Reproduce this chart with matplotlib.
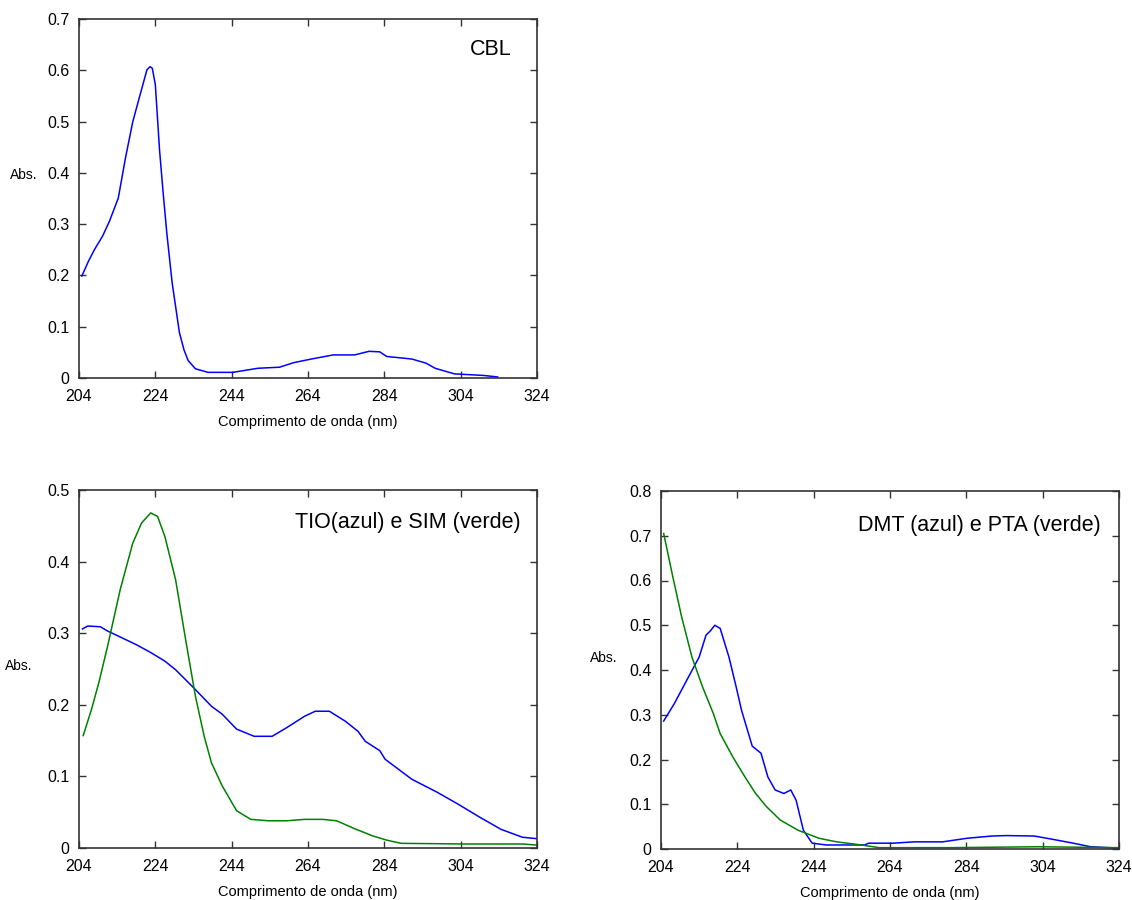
import matplotlib
matplotlib.use("Agg")
import matplotlib.pyplot as plt
import numpy as np

plt.rcParams['font.family'] = ['Liberation Sans', 'DejaVu Sans']

# ---- data ----
cbl_x = [204.75, 206.5, 208.1, 210.2, 212, 214.3, 216.2, 218.1, 220, 221.8, 222.6, 223.2, 224, 225.1,
         226.0, 227, 228.4, 230.3, 231.5, 232.6, 234.5, 237.8, 244.3, 250.9, 256.5, 260.3, 264.9,
         270.6, 276.2, 280, 282.8, 284.6, 291.2, 294.9, 297.3, 302.4, 310, 313.7]
cbl_y = [0.199, 0.228, 0.251, 0.277, 0.306, 0.351, 0.430, 0.500, 0.552, 0.601, 0.607, 0.604, 0.572,
         0.445, 0.365, 0.283, 0.186, 0.089, 0.055, 0.034, 0.018, 0.011, 0.011, 0.019, 0.021, 0.030,
         0.037, 0.045, 0.045, 0.052, 0.051, 0.042, 0.037, 0.029, 0.019, 0.008, 0.005, 0.002]

tio_x = [204.9, 206.3, 209.6, 211.5, 214.3, 219, 222.8, 226.5, 229.3, 234, 238.7, 241.5, 245.3,
         249.9, 254.6, 258.4, 263.1, 265.9, 269.6, 273.8, 277.1, 279, 282.8, 284.2, 291.2, 297.8,
         303.4, 309, 314.6, 320.2, 324]
tio_y = [0.306, 0.310, 0.309, 0.303, 0.296, 0.284, 0.273, 0.261, 0.249, 0.224, 0.198, 0.187, 0.166,
         0.156, 0.156, 0.168, 0.184, 0.191, 0.191, 0.177, 0.163, 0.149, 0.136, 0.124, 0.096, 0.078,
         0.061, 0.043, 0.026, 0.015, 0.013]

sim_x = [205.1, 207.3, 209.2, 211.5, 214.8, 218.1, 220.4, 222.8, 224.6, 226.5, 229.3, 232.1, 234.5,
         236.8, 238.7, 241.5, 245.3, 249, 253.7, 258.4, 263.1, 267.8, 271.5, 276.2, 280.9, 284.6,
         288.4, 305.3, 320.3, 324]
sim_y = [0.157, 0.194, 0.231, 0.282, 0.361, 0.426, 0.454, 0.468, 0.463, 0.435, 0.375, 0.286, 0.212,
         0.156, 0.119, 0.087, 0.052, 0.040, 0.038, 0.038, 0.040, 0.040, 0.038, 0.027, 0.017, 0.011,
         0.0065, 0.0056, 0.0056, 0.004]

dmt_x = [204.7, 207.5, 210.3, 214, 215.8, 217.0, 218.1, 219.5, 221.8, 223.7, 225.1, 227.9, 230.2, 232,
         233.9, 236.2, 238, 239.4, 241.3, 243.6, 247.3, 257.4, 258.4, 264.8, 270.4, 277.8, 284.2,
         290.7, 294.4, 301.8, 306.4, 312, 316.6, 321.2, 324]
dmt_y = [0.286, 0.325, 0.370, 0.429, 0.478, 0.488, 0.500, 0.493, 0.429, 0.362, 0.310, 0.230, 0.214, 0.161,
         0.132, 0.124, 0.132, 0.109, 0.042, 0.013, 0.009, 0.009, 0.013, 0.013, 0.016, 0.016, 0.024,
         0.029, 0.030, 0.029, 0.022, 0.013, 0.005, 0.003, 0.0015]

pta_x = [204.7, 207.1, 209.4, 212.1, 214.9, 217.7, 219.5, 222.8, 226, 228.8, 231.6, 235.2, 239.9,
         245.4, 250, 256.5, 261.1, 279.6, 302.7, 324]
pta_y = [0.705, 0.608, 0.519, 0.429, 0.362, 0.303, 0.258, 0.206, 0.161, 0.124, 0.095, 0.065, 0.042,
         0.024, 0.016, 0.009, 0.003, 0.003, 0.005, 0.003]

x_ticks = [204, 224, 244, 264, 284, 304, 324]
blue = '#0000ff'
green = '#008000'
edge = '#333333'

fig = plt.figure(figsize=(11.32, 9.0), dpi=100)

W = 1132.0
H = 900.0

def make_ax(l, t, r, b):
    return fig.add_axes([l / W, 1 - b / H, (r - l) / W, (b - t) / H])

def style(ax, ymax, ystep, title, title_x, title_y):
    ax.set_xlim(204, 324)
    ax.set_ylim(0, ymax)
    ax.set_xticks(x_ticks)
    yt = np.round(np.arange(0, ymax + 1e-9, ystep), 2)
    ax.set_yticks(yt)
    ax.set_yticklabels(['0' if v == 0 else ('%g' % v) for v in yt])
    ax.tick_params(direction='in', length=5, width=1, color=edge, labelsize=11.5,
                   top=True, right=True)
    ax.tick_params(axis='x', pad=8)
    ax.tick_params(axis='y', pad=7)
    for s in ax.spines.values():
        s.set_color(edge)
        s.set_linewidth(1.2)
    ax.set_xlabel('Comprimento de onda (nm)', fontsize=10.5, labelpad=8)
    ax.text(title_x, title_y, title, transform=ax.transAxes, ha='right', va='center',
            fontsize=15.5, color='black')

ax1 = make_ax(79, 19, 537, 378)
ax1.plot(cbl_x, cbl_y, color=blue, lw=1.1)
style(ax1, 0.7, 0.1, 'CBL', 0.945, 0.915)
fig.text(10 / W, 1 - 175 / H, 'Abs.', fontsize=10, va='center', ha='left')

ax2 = make_ax(79, 490, 537, 848)
ax2.plot(tio_x, tio_y, color=blue, lw=1.1)
ax2.plot(sim_x, sim_y, color=green, lw=1.1)
style(ax2, 0.5, 0.1, 'TIO(azul) e SIM (verde)', 0.965, 0.908)
fig.text(5 / W, 1 - 666 / H, 'Abs.', fontsize=10, va='center', ha='left')

ax3 = make_ax(661, 491, 1119, 849)
ax3.plot(dmt_x, dmt_y, color=blue, lw=1.1)
ax3.plot(pta_x, pta_y, color=green, lw=1.1)
style(ax3, 0.8, 0.1, 'DMT (azul) e PTA (verde)', 0.96, 0.905)
fig.text(590 / W, 1 - 658 / H, 'Abs.', fontsize=10, va='center', ha='left')

fig.savefig('out.png', dpi=100, facecolor='white')
